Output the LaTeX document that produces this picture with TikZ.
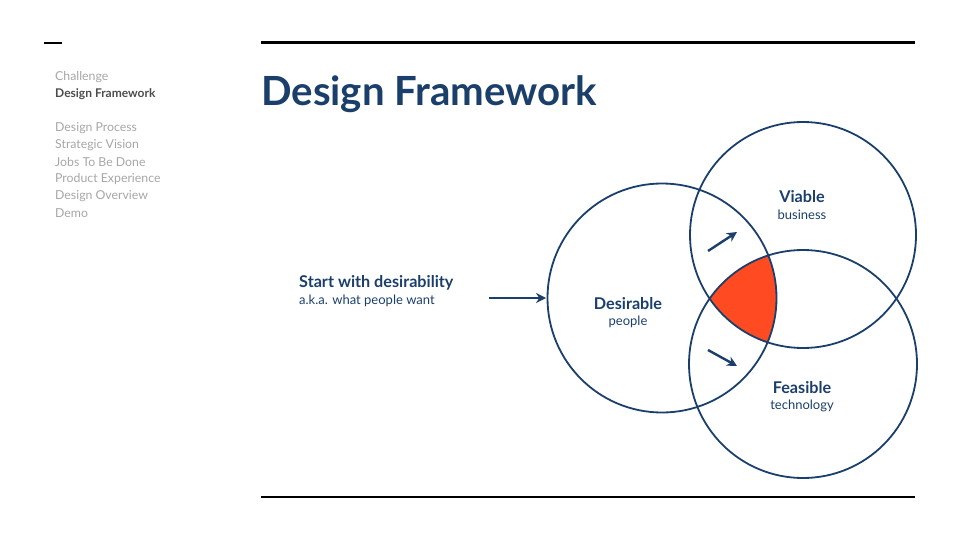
\documentclass[tikz,border=0pt]{standalone}
\usepackage{fontspec}
\setmainfont{Lato}
\usetikzlibrary{arrows.meta}
\definecolor{navy}{HTML}{1B3F6B}
\definecolor{menugrey}{HTML}{A6A6A6}
\definecolor{hot}{HTML}{FF4A22}
\tikzset{
  menu/.style={anchor=west,inner sep=0pt,text=menugrey,font=\fontsize{12.3}{14}\selectfont},
  ring/.style={draw=navy,line width=1.8pt},
  big/.style={text=navy,font=\fontsize{16.2}{18}\selectfont\bfseries,inner sep=0pt},
  small/.style={text=navy,font=\fontsize{13}{15}\selectfont,inner sep=0pt},
  push/.style={-{Stealth[length=10pt,width=10pt]},draw=navy,line width=2.4pt}
}
\begin{document}
\begin{tikzpicture}[x=1pt,y=-1pt]
  \useasboundingbox (0,0) rectangle (960,540);
  % rules
  \draw[line width=2pt] (44,43) -- (62,43);
  \draw[line width=3pt] (261,43) -- (915,43);
  \draw[line width=2pt] (261,497) -- (915,497);
  % side menu
  \node[menu] (m1) at (55,77) {Challenge};
  \node[menu,text=black!70,font=\fontsize{12}{14}\selectfont\bfseries] (m2) at (55,94) {Design Framework};
  \node[menu] (m3) at (55,128) {Design Process};
  \node[menu] (m4) at (55,145) {Strategic Vision};
  \node[menu] (m5) at (55,162) {Jobs To Be Done};
  \node[menu] (m6) at (55,179) {Product Experience};
  \node[menu] (m7) at (55,196) {Design Overview};
  \node[menu] (m8) at (55,213) {Demo};
  % title
  \node[anchor=west,inner sep=0pt,text=navy,font=\fontsize{40.2}{46}\selectfont\bfseries] (title) at (261,94) {Design Framework};
  % sweet spot
  \begin{scope}
    \clip (662,298) circle (114.5);
    \clip (803,235) circle (113);
    \fill[hot] (803,364) circle (114);
  \end{scope}
  % circles
  \draw[ring] (662,298) circle (114.5);
  \draw[ring] (803,235) circle (113);
  \draw[ring] (803,364) circle (114);
  % labels
  \node[big] (des) at (628,304) {Desirable};
  \node[small] (desp) at (628,322) {people};
  \node[big] (via) at (802,197) {Viable};
  \node[small] (viap) at (802,215) {business};
  \node[big] (fea) at (802,388) {Feasible};
  \node[small] (feap) at (802,406) {technology};
  \node[big,anchor=west] (start) at (299,283) {Start with desirability};
  \node[small,anchor=west] (aka) at (299,301) {a.k.a. what people want};
  % arrows
  \coordinate (a0) at (489,298);
  \coordinate (a1) at (546,298);
  \coordinate (b0) at (708,251);
  \coordinate (b1) at (737,232);
  \coordinate (c0) at (708,350);
  \coordinate (c1) at (737,366);
  \draw[push] (a0) -- (a1);
  \draw[push] (b0) -- (b1);
  \draw[push] (c0) -- (c1);
\end{tikzpicture}
\end{document}
